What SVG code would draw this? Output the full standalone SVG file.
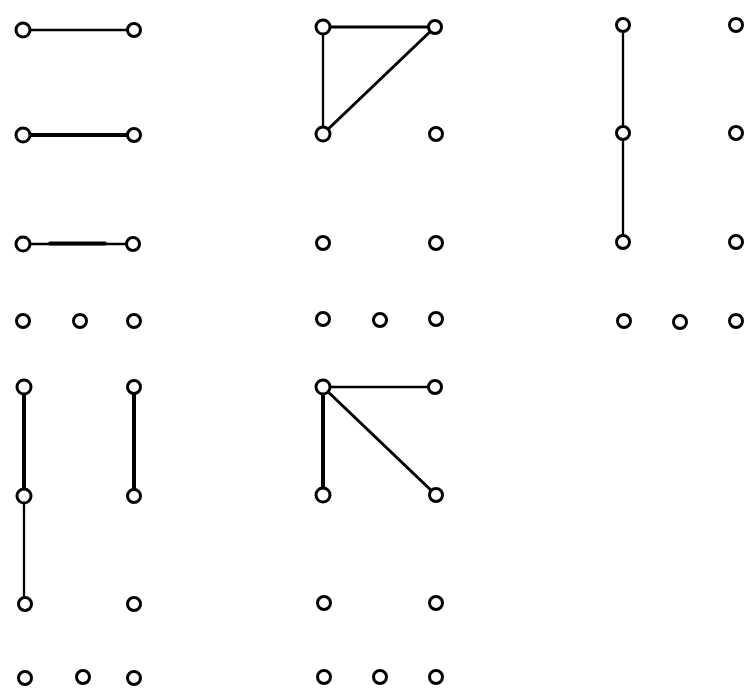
<svg xmlns="http://www.w3.org/2000/svg" width="747" height="690" viewBox="0 0 747 690">
<style>
.n{fill:#fff;stroke:#000;stroke-width:3}
.e{stroke:#000;stroke-linecap:round;fill:none}
.t{stroke-width:2.3}
.m{stroke-width:3}
.k{stroke-width:4}
</style>
<rect width="747" height="690" fill="#fff"/>
<g id="connectors">
<line class="e t" x1="23" y1="30" x2="134" y2="30"/>
<line class="e k" x1="23" y1="135" x2="134" y2="135"/>
<line class="e t" x1="23" y1="244" x2="134" y2="244"/>
<line class="e k" x1="50" y1="243.5" x2="105" y2="243.5"/>
<line class="e m" x1="323" y1="27" x2="435" y2="27"/>
<line class="e t" x1="323" y1="27" x2="323" y2="134"/>
<line class="e m" x1="323" y1="134" x2="435" y2="27"/>
<line class="e t" x1="623" y1="25" x2="623" y2="242"/>
<line class="e k" x1="24" y1="387" x2="24" y2="496"/>
<line class="e t" x1="24" y1="496" x2="24" y2="604"/>
<line class="e k" x1="134" y1="387" x2="134" y2="496"/>
<line class="e t" x1="323" y1="387" x2="435" y2="387"/>
<line class="e k" x1="323" y1="387" x2="323" y2="495"/>
<line class="e m" x1="323" y1="387" x2="436" y2="495"/>
</g>
<g id="panel1">
<circle class="n" cx="23" cy="30" r="7"/><circle class="n" cx="134" cy="30" r="6.5"/>
<circle class="n" cx="23" cy="135" r="7"/><circle class="n" cx="134" cy="135" r="6.5"/>
<circle class="n" cx="23" cy="244" r="7"/><circle class="n" cx="133" cy="244" r="6.5"/>
<circle class="n" cx="23" cy="321" r="6.5"/><circle class="n" cx="80" cy="321" r="6.5"/><circle class="n" cx="134" cy="321" r="6.5"/>
</g>
<g id="panel2">
<circle class="n" cx="323" cy="27" r="7"/><circle class="n" cx="435" cy="27" r="6.5"/>
<circle class="n" cx="323" cy="134" r="7"/><circle class="n" cx="436" cy="134" r="6.5"/>
<circle class="n" cx="323" cy="243" r="6.5"/><circle class="n" cx="436" cy="243" r="6.5"/>
<circle class="n" cx="323" cy="319" r="6.5"/><circle class="n" cx="380" cy="320" r="6.5"/><circle class="n" cx="436" cy="319" r="6.5"/>
</g>
<g id="panel3">
<circle class="n" cx="623" cy="25" r="6.5"/><circle class="n" cx="736" cy="25" r="6.5"/>
<circle class="n" cx="623" cy="133" r="6.5"/><circle class="n" cx="736" cy="133" r="6.5"/>
<circle class="n" cx="623" cy="242" r="6.5"/><circle class="n" cx="736" cy="242" r="6.5"/>
<circle class="n" cx="624" cy="321" r="6.5"/><circle class="n" cx="680" cy="322" r="6.5"/><circle class="n" cx="736" cy="321" r="6.5"/>
</g>
<g id="panel4">
<circle class="n" cx="24" cy="387" r="7"/><circle class="n" cx="134" cy="387" r="6.5"/>
<circle class="n" cx="24" cy="496" r="7"/><circle class="n" cx="134" cy="496" r="6.5"/>
<circle class="n" cx="25" cy="604" r="6.5"/><circle class="n" cx="134" cy="604" r="6.5"/>
<circle class="n" cx="25" cy="678" r="6.5"/><circle class="n" cx="83" cy="677" r="6.5"/><circle class="n" cx="134" cy="678" r="6.5"/>
</g>
<g id="panel5">
<circle class="n" cx="323" cy="387" r="7"/><circle class="n" cx="435" cy="387" r="6.5"/>
<circle class="n" cx="323" cy="495" r="7"/><circle class="n" cx="436" cy="495" r="6.5"/>
<circle class="n" cx="324" cy="603" r="6.5"/><circle class="n" cx="436" cy="603" r="6.5"/>
<circle class="n" cx="324" cy="677" r="6.5"/><circle class="n" cx="380" cy="677" r="6.5"/><circle class="n" cx="436" cy="677" r="6.5"/>
</g>
</svg>
